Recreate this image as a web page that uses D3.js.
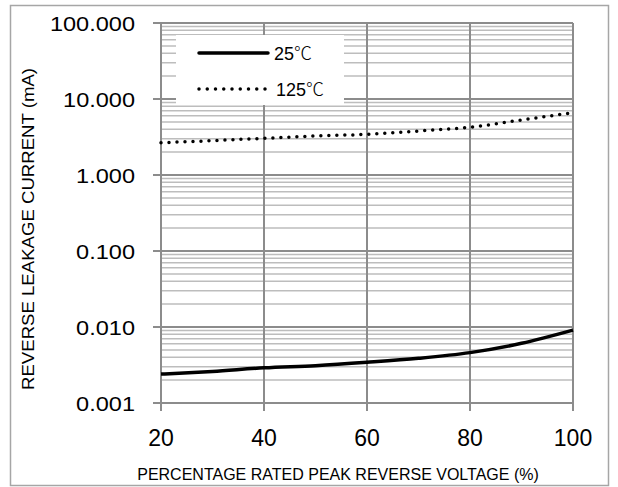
<!DOCTYPE html>
<html>
<head>
<meta charset="utf-8">
<script src="https://cdn.jsdelivr.net/npm/d3@7"></script>
<style>
  body { margin: 0; background: #fff; }
  text { font-family: "Liberation Sans", Arial, sans-serif; fill: #000; }
  .deg { font-family: "Noto Sans CJK JP", sans-serif; font-weight: 300; }
</style>
</head>
<body>
<div id="chart"></div>
<script>
// values
var voltage = [20, 30, 40, 50, 60, 70, 80, 90, 100];
var leak25 = [0.0024, 0.0026, 0.0029, 0.0031, 0.00343, 0.00387, 0.0046, 0.0061, 0.0091];
var leak125 = [2.66, 2.83, 3.04, 3.26, 3.43, 3.79, 4.25, 5.3, 6.6];
var xTicks = [20, 40, 60, 80, 100];
var yTicks = [0.001, 0.01, 0.1, 1, 10, 100];
var seriesNames = ["25", "125"];

var width = 618, height = 487;
var margin = {top: 23, right: 45, bottom: 84, left: 161};

var svg = d3.select("#chart").append("svg")
    .attr("width", width)
    .attr("height", height);

// outer frame
svg.append("rect")
    .attr("x", 10.5).attr("y", 5.5)
    .attr("width", 598).attr("height", 480)
    .attr("fill", "none")
    .attr("stroke", "#a6a6a6")
    .attr("stroke-width", 1.5);

var x = d3.scaleLinear()
    .domain([20, 100])
    .range([margin.left, width - margin.right]);
var y = d3.scaleLog()
    .domain([0.001, 100])
    .range([height - margin.bottom, margin.top]);

// minor horizontal grid (2..9 in each decade)
var minor = [];
yTicks.slice(0, -1).forEach(function(d) {
  for (var k = 2; k <= 9; k++) minor.push(d * k);
});
svg.append("g").selectAll("line")
    .data(minor)
    .enter().append("line")
    .attr("x1", x(20)).attr("x2", x(100))
    .attr("y1", function(d) { return y(d); })
    .attr("y2", function(d) { return y(d); })
    .attr("stroke", "#bdbdbd")
    .attr("stroke-width", 1.5);

// major grid
svg.append("g").selectAll("line")
    .data(yTicks)
    .enter().append("line")
    .attr("x1", x(20) - 8).attr("x2", x(100))
    .attr("y1", function(d) { return y(d); })
    .attr("y2", function(d) { return y(d); })
    .attr("stroke", "#8c8c8c")
    .attr("stroke-width", 2);
svg.append("g").selectAll("line")
    .data(xTicks)
    .enter().append("line")
    .attr("x1", function(d) { return x(d); })
    .attr("x2", function(d) { return x(d); })
    .attr("y1", y(100)).attr("y2", y(0.001) + 8)
    .attr("stroke", "#8c8c8c")
    .attr("stroke-width", 2);

// y tick labels
svg.append("g").selectAll("text")
    .data(yTicks)
    .enter().append("text")
    .attr("x", 135)
    .attr("y", function(d) { return y(d); })
    .attr("dy", "0.36em")
    .attr("text-anchor", "end")
    .style("font-size", "21px")
    .text(function(d) { return d3.format(".3f")(d); })
    .each(function() {
      this.setAttribute("textLength", this.getComputedTextLength() * 1.12);
      this.setAttribute("lengthAdjust", "spacingAndGlyphs");
    });

// x tick labels
svg.append("g").selectAll("text")
    .data(xTicks)
    .enter().append("text")
    .attr("x", function(d) { return x(d); })
    .attr("y", 446)
    .attr("text-anchor", "middle")
    .style("font-size", "23px")
    .text(function(d) { return d; });

// axis titles
svg.append("text")
    .attr("x", 338).attr("y", 480)
    .attr("text-anchor", "middle")
    .style("font-size", "16px")
    .text("PERCENTAGE RATED PEAK REVERSE VOLTAGE (%)");
svg.append("text")
    .attr("transform", "translate(34,229) rotate(-90)")
    .attr("text-anchor", "middle")
    .style("font-size", "17px")
    .attr("textLength", 322)
    .attr("lengthAdjust", "spacingAndGlyphs")
    .text("REVERSE LEAKAGE CURRENT (mA)");

// curves
var line = d3.line()
    .x(function(d) { return x(d[0]); })
    .y(function(d) { return y(d[1]); })
    .curve(d3.curveMonotoneX);

svg.append("path")
    .datum(d3.zip(voltage, leak25))
    .attr("d", line)
    .attr("fill", "none")
    .attr("stroke", "#000")
    .attr("stroke-width", 3.5);

svg.append("path")
    .datum(d3.zip(voltage, leak125))
    .attr("d", line)
    .attr("fill", "none")
    .attr("stroke", "#000")
    .attr("stroke-width", 3.5)
    .attr("stroke-linecap", "round")
    .attr("stroke-dasharray", "0,8");

// legend
var legend = svg.append("g");
legend.append("rect")
    .attr("x", 176).attr("y", 35)
    .attr("width", 168).attr("height", 70)
    .attr("fill", "#fff");

var legendRow = legend.selectAll(".row")
    .data(seriesNames)
    .enter().append("g")
    .attr("class", "row")
    .attr("transform", function(d, i) { return "translate(199," + (53 + i * 36) + ")"; });

legendRow.append("line")
    .attr("x1", 0).attr("x2", function(d, i) { return i ? 67 : 69; })
    .attr("stroke", "#000")
    .attr("stroke-width", 3.5)
    .attr("stroke-linecap", "round")
    .attr("stroke-dasharray", function(d, i) { return i ? "0,8.25" : null; });

var legendText = legendRow.append("text")
    .attr("x", function(d, i) { return i ? 77 : 75; })
    .attr("y", 7)
    .style("font-size", "18px");
legendText.append("tspan").text(function(d) { return d; });
legendText.append("tspan").attr("class", "deg").text("\u2103");
</script>
</body>
</html>
